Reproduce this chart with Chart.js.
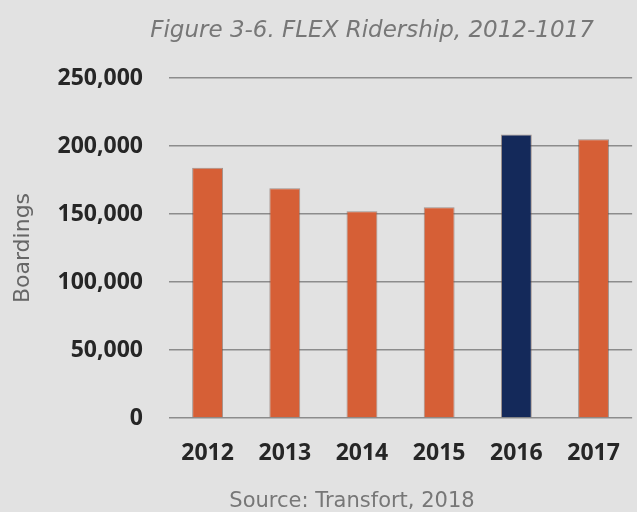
<!DOCTYPE html>
<html>
<head>
<meta charset="utf-8">
<script src="https://cdn.jsdelivr.net/npm/chart.js@4"></script>
<style>
  html, body { margin: 0; padding: 0; background: #e2e2e2; overflow: hidden; }
  #wrap { width: 637px; height: 512px; overflow: hidden; }
  #wrap div { width: 642px; height: 512px; }
</style>
</head>
<body>
<div id="wrap"><div><canvas id="flexChart"></canvas></div></div>
<script>
// data
const years = ['2012', '2013', '2014', '2015', '2016', '2017'];
const boardings = [184000, 169000, 152000, 155000, 208500, 205000];
const yTicks = [0, 50000, 100000, 150000, 200000, 250000];
const highlightYear = '2016';

const orange = '#d65f36';
const navy = '#14295a';

// title and source note drawn as plain text on the canvas
const captions = {
    id: 'captions',
    afterDraw(chart) {
        const c = chart.ctx;
        c.save();
        c.textAlign = 'center';
        c.textBaseline = 'middle';
        c.fillStyle = '#777777';
        c.font = 'italic 23px "DejaVu Sans"';
        c.fillText('Figure 3-6. FLEX Ridership, 2012-1017', 372, 31);
        c.font = '21px "DejaVu Sans"';
        c.fillText('Source: Transfort, 2018', 352, 502);
        c.restore();
    }
};

function drawChart() {
    const ctx = document.getElementById('flexChart').getContext('2d');
    new Chart(ctx, {
        type: 'bar',
        data: {
            labels: years,
            datasets: [{
                label: 'Boardings',
                data: boardings,
                backgroundColor: years.map(y => y === highlightYear ? navy : orange),
                borderColor: 'rgba(110, 80, 70, 0.55)',
                borderWidth: 1,
                barPercentage: 0.4,
                categoryPercentage: 1
            }]
        },
        options: {
            responsive: true,
            maintainAspectRatio: false,
            animation: false,
            layout: { padding: { left: 10, right: 2, top: 78, bottom: 0 } },
            plugins: {
                legend: { display: false },
                title: { display: false },
                tooltip: { enabled: false }
            },
            scales: {
                x: {
                    grid: { display: false, drawTicks: false },
                    border: { display: false },
                    ticks: {
                        color: '#262626',
                        padding: 22,
                        font: { family: '"Open Sans"', size: 23, weight: 'bold' }
                    },
                    afterFit(scale) { scale.height = 94; }
                },
                y: {
                    min: 0,
                    max: 250000,
                    afterBuildTicks(scale) { scale.ticks = yTicks.map(v => ({ value: v })); },
                    grid: { color: '#8c8c8c', lineWidth: 1.6, drawTicks: false },
                    border: { display: false },
                    ticks: {
                        color: '#262626',
                        padding: 26,
                        font: { family: '"Open Sans"', size: 23, weight: 'bold' },
                        callback: v => v.toLocaleString('en-US')
                    },
                    title: {
                        display: true,
                        text: 'Boardings',
                        color: '#666666',
                        padding: 0,
                        font: { family: '"DejaVu Sans"', size: 22 }
                    },
                    afterFit(scale) { scale.width = 159; }
                }
            }
        },
        plugins: [captions]
    });
}

Promise.all([
    document.fonts.load('bold 23px "Open Sans"'),
    document.fonts.load('22px "DejaVu Sans"'),
    document.fonts.load('italic 23px "DejaVu Sans"')
]).then(drawChart, drawChart);
</script>
</body>
</html>
